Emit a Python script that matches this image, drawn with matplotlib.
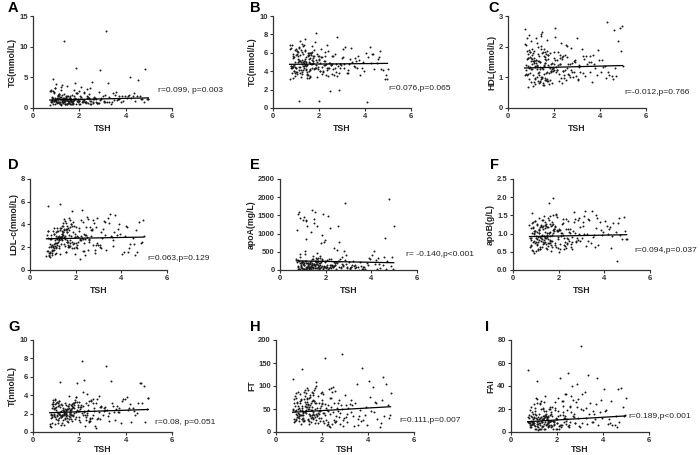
import matplotlib
matplotlib.use("Agg")
import matplotlib.pyplot as plt
import numpy as np

plt.rcParams['font.family'] = ['Liberation Sans', 'DejaVu Sans']

tsh = [0.78,1.12,1.45,0.95,2.10,1.33,1.68,2.45,0.88,1.52,
       3.10,1.05,1.87,2.22,0.72,1.26,1.74,2.95,1.40,0.91,
       2.60,1.18,1.59,3.45,0.83,1.95,2.31,1.09,4.20,1.47,
       1.63,2.05,0.98,2.78,1.36,1.81,3.72,1.22,0.76,2.15,
       1.55,4.65,1.02,1.91,2.52,1.29,3.25,0.86,1.70,2.38,
       1.14,4.95,1.43,2.00,0.93,1.77,2.85,1.31,3.58,1.06,
       1.61,2.27,0.80,4.40,1.49,1.98,2.68,1.19,3.90,1.38,
       0.74,2.12,1.57,4.10,1.24,1.84,3.05,1.00,2.41,1.66,
       1.11,3.35,1.42,2.55,0.89,4.78,1.72,2.08,1.27,3.65,
       1.53,0.97,2.20,1.35,2.90,1.80,4.30,1.16,1.62,2.48,
       0.84,3.15,1.44,2.02,1.08,3.80,1.75,2.35,1.30,4.55,
       1.58,0.92,2.72,1.20,1.93,3.50,1.39,2.18,0.79,4.05,
       1.65,2.62,1.04,1.88,3.00,1.48,2.25,0.95,4.85,1.34,
       1.71,2.80,1.13,3.20,1.56,2.42,0.87,1.97,3.95,1.25,
       1.60,4.60,1.41,2.30,1.01,2.70,1.85,3.40,1.17,4.98,
       1.21,0.81,1.67,2.14,1.37,3.30,0.99,1.79,2.58,1.46,
       0.90,1.54,2.40,1.15,3.85,1.73,2.06,1.28,4.25,1.60,
       1.03,2.33,1.50,0.77,2.88,1.86,1.32,3.55,1.10,2.65,
       1.69,0.94,2.17,1.44,4.70,1.23,1.90,2.50,1.07,3.10,
       1.58,2.75,0.85,1.39,2.24,1.82,3.70,1.26,4.50,1.64,
       0.96,1.99,1.47,2.92,1.14,3.28,1.76,2.36,0.82,4.15,
       1.35,2.03,1.55,2.83,1.19,4.90,1.70,1.06,2.46,3.62,
       1.42,0.89,2.28,1.61,3.05,1.31,1.94,4.35,1.12,2.57]

tg = [1.2,0.8,1.9,0.6,1.4,2.3,1.0,0.7,1.6,1.1,
      2.1,0.9,1.5,1.3,0.5,3.8,0.8,1.7,1.2,2.6,
      1.0,1.4,0.6,2.4,1.8,0.9,3.1,1.5,5.0,0.7,
      1.3,2.0,3.9,0.8,1.1,1.6,1.9,0.5,2.8,1.2,
      0.9,1.4,1.7,2.5,0.6,1.3,4.1,4.8,1.0,1.8,
      2.2,1.5,0.7,1.1,3.2,1.9,0.8,1.4,2.6,1.0,
      1.6,0.9,1.3,1.2,2.0,0.6,1.7,3.4,1.1,1.5,
      2.7,1.0,0.8,1.9,1.4,6.5,1.2,0.9,2.3,1.1,
      1.7,0.7,1.5,4.3,1.3,1.0,0.6,1.8,2.1,1.4,
      0.8,1.3,2.6,11.0,6.2,1.5,1.9,0.9,1.2,3.3,
      1.1,12.5,1.6,0.7,2.2,1.0,1.4,1.7,0.8,4.5,
      1.9,1.2,0.9,2.9,1.5,1.3,0.6,2.4,1.0,1.6,
      0.7,1.8,1.4,1.1,2.0,3.6,0.9,1.3,6.3,1.2,
      1.5,0.8,2.3,1.0,1.7,1.4,0.6,2.8,1.9,1.1,
      1.3,2.0,1.6,0.9,1.2,1.5,2.5,1.0,1.8,1.4,
      1.4,0.9,2.2,1.1,0.7,1.8,1.5,3.0,0.8,1.3,
      2.5,1.0,1.6,0.6,2.0,1.2,3.5,0.9,1.7,1.4,
      0.8,1.9,1.1,2.9,1.3,0.7,1.6,2.2,1.0,1.5,
      1.2,3.3,0.9,1.8,1.4,0.6,2.4,1.1,1.9,1.0,
      1.6,0.8,2.7,1.3,1.0,4.0,1.5,0.9,2.0,1.2,
      1.7,1.1,0.6,1.4,2.3,1.0,1.3,0.8,1.6,2.1,
      0.9,1.5,1.2,2.6,1.8,1.4,0.7,1.9,1.1,1.3,
      2.0,1.2,0.8,1.6,1.0,1.7,1.3,2.4,0.9,1.5]

tc = [4.6,5.2,4.1,3.8,5.5,4.9,6.1,4.4,5.7,3.6,
      4.8,5.9,4.3,5.1,6.8,3.9,5.4,4.7,6.3,4.0,
      5.6,4.5,3.4,5.0,6.9,4.2,4.8,5.3,6.6,3.7,
      6.0,4.9,5.8,3.5,4.6,7.2,5.2,4.1,6.4,5.5,
      3.3,6.2,4.4,5.0,4.7,5.9,3.8,4.5,6.7,4.3,
      5.1,3.1,4.8,5.6,4.0,6.3,2.0,4.6,5.4,3.9,
      4.9,5.7,6.5,4.2,3.6,5.3,4.4,7.3,5.0,4.7,
      3.2,4.5,5.8,0.7,6.1,4.3,5.5,3.9,6.2,4.8,
      0.8,5.3,4.6,3.7,5.9,4.1,4.9,6.4,5.2,4.4,
      6.0,3.5,4.7,5.1,4.3,5.6,5.9,3.8,4.2,1.8,
      4.5,6.6,5.0,0.8,5.7,3.6,4.9,6.8,4.1,5.3,
      4.0,5.5,4.8,6.3,3.4,4.6,5.1,3.9,4.4,6.0,
      5.8,4.2,3.7,8.1,5.4,4.7,6.1,5.0,3.1,4.3,
      5.2,7.7,4.5,3.8,6.0,4.9,3.3,5.6,4.0,4.8,
      4.1,5.5,6.2,3.6,4.4,5.9,4.7,6.5,5.1,4.2,
      5.0,4.4,6.0,3.7,5.3,4.8,6.4,4.2,5.6,3.9,
      4.7,5.8,3.5,6.6,4.3,5.1,4.0,7.0,4.9,5.4,
      6.2,4.1,5.7,4.6,3.8,5.2,6.7,4.5,5.0,3.6,
      4.8,6.3,4.0,5.5,4.2,3.4,5.9,4.7,6.1,4.4,
      5.3,3.9,4.6,7.5,5.1,4.3,5.6,3.7,4.9,6.0,
      4.5,5.2,3.3,4.8,6.5,4.1,5.7,4.4,3.8,5.5,
      6.8,4.0,5.0,4.6,5.8,3.6,4.3,6.2,4.9,5.1,
      4.2,5.4,4.7,3.5,6.4,5.0,4.5,5.9,4.1,4.8]

hdl = [1.24,1.52,0.93,1.81,1.33,1.08,2.21,0.97,1.63,0.82,
       1.41,1.92,1.18,0.89,2.58,1.27,1.74,1.03,1.49,2.38,
       1.12,0.78,1.61,1.44,1.87,1.21,2.13,0.72,1.36,1.79,
       0.99,2.62,1.53,1.16,1.69,0.91,1.42,2.29,1.07,1.58,
       1.93,1.31,0.84,1.47,2.04,1.13,1.71,1.38,0.88,1.22,
       1.64,2.68,1.02,1.83,1.29,0.79,1.54,1.98,1.19,1.43,
       0.92,1.73,1.39,1.09,2.47,1.62,1.01,1.34,1.88,1.51,
       2.09,1.23,0.76,1.57,1.37,1.78,0.94,1.26,1.68,1.14,
       1.48,1.04,1.91,1.32,0.69,2.17,1.59,1.17,1.41,0.86,
       1.28,1.84,1.11,0.81,1.56,1.35,2.82,0.98,1.46,1.72,
       1.61,1.19,2.01,1.44,1.06,1.30,0.87,1.67,1.53,0.96,
       1.37,1.89,1.24,1.58,0.83,1.49,1.27,1.81,1.12,1.18,
       0.91,1.42,1.73,1.21,2.28,1.02,1.63,1.33,2.61,1.52,
       1.16,1.47,0.85,1.94,1.39,1.09,1.76,1.29,1.57,1.01,
       1.82,2.53,1.34,0.97,1.64,1.43,1.22,1.71,0.93,1.36,
       1.46,1.08,1.77,1.25,0.88,1.59,2.19,1.13,1.66,1.31,
       0.95,1.83,1.21,1.54,1.07,1.72,2.33,1.36,0.99,1.48,
       1.27,1.61,0.74,2.05,1.18,1.44,0.89,1.69,1.52,1.06,
       1.85,1.14,1.39,2.42,1.03,1.57,1.26,0.92,1.78,1.35,
       1.11,1.95,1.62,0.86,1.45,1.29,1.74,2.12,1.04,1.58,
       1.67,1.23,0.98,1.51,1.86,1.15,1.40,0.81,2.27,1.33,
       1.19,1.55,1.71,1.02,1.38,1.87,0.94,1.60,1.25,1.49,
       2.36,1.10,1.43,1.66,0.90,1.77,1.30,1.17,1.54,2.02]

ldl = [5.6,2.4,3.1,1.8,2.9,3.5,2.2,3.8,1.5,2.7,
       3.3,1.9,4.2,2.6,1.2,3.0,2.1,4.6,3.4,2.8,
       2.5,3.7,1.6,4.1,2.0,3.2,2.7,1.4,3.9,2.3,
       3.6,2.2,1.3,4.4,2.9,3.0,4.8,2.5,1.7,3.4,
       2.8,3.5,2.1,3.9,1.8,2.6,4.3,1.1,3.1,2.4,
       1.9,4.4,3.3,2.0,2.7,3.8,1.5,5.8,2.9,3.2,
       2.6,5.3,1.7,2.3,3.6,1.4,3.0,2.2,4.0,2.8,
       3.1,2.5,4.1,1.6,2.9,5.2,2.0,3.4,1.3,3.7,
       2.4,1.8,3.2,4.5,2.7,4.2,3.5,1.9,2.6,2.1,
       3.0,2.2,1.0,2.9,3.8,4.0,1.6,3.3,2.5,4.7,
       1.2,2.8,3.9,2.4,2.1,3.1,4.4,1.7,2.9,2.3,
       3.5,2.0,3.6,2.7,1.9,4.9,3.2,2.6,3.4,1.4,
       2.5,3.8,1.8,3.3,2.2,2.9,3.0,1.5,2.4,3.7,
       2.1,4.1,2.8,3.6,1.6,3.1,2.3,2.9,3.2,2.7,
       3.3,1.3,2.6,4.2,2.0,3.5,1.9,4.6,2.4,3.0,
       2.9,3.4,2.0,3.7,2.3,3.1,1.8,4.0,2.6,3.3,
       2.1,4.3,2.7,1.5,3.6,2.4,3.0,1.9,3.8,2.5,
       3.2,1.7,4.5,2.8,2.2,3.9,1.4,3.0,2.6,3.5,
       2.0,3.1,2.7,4.1,1.6,3.4,2.3,2.9,3.7,1.9,
       3.6,2.2,1.3,3.0,4.4,2.5,3.3,2.1,2.8,3.9,
       1.7,2.9,3.5,2.4,2.0,4.2,2.6,3.2,1.5,3.0,
       2.7,3.8,2.1,1.8,3.4,2.5,4.6,2.3,3.1,2.6,
       3.9,1.6,2.8,3.3,2.2,3.7,2.4,1.9,3.0,2.7]

apoa = [120,1380,60,250,40,180,80,30,350,110,
        90,20,1550,150,310,70,200,45,1650,130,
        780,50,160,10,240,210,100,35,270,1400,
        60,95,220,140,80,750,25,190,1100,300,
        1580,40,170,85,260,15,120,450,55,230,
        1350,30,95,70,205,380,1850,160,25,140,
        480,110,280,60,175,820,45,1200,330,90,
        210,1480,65,520,135,270,40,230,150,260,
        520,75,310,1220,190,1950,55,140,170,35,
        260,50,1150,115,400,80,340,20,290,185,
        1600,150,300,90,240,180,130,600,70,350,
        250,85,160,45,780,210,130,95,1550,420,
        125,300,1450,65,220,160,55,220,100,35,
        190,520,240,260,320,150,1420,80,310,60,
        170,870,140,75,1380,360,110,75,205,1200,
        180,90,320,50,260,140,25,210,70,380,
        110,45,190,850,130,60,280,95,30,230,
        150,75,1300,20,170,310,55,120,440,85,
        40,200,140,65,250,100,30,560,180,70,
        220,115,35,160,300,960,90,50,145,210,
        60,240,130,80,190,45,340,110,25,175,
        1050,65,150,270,95,360,120,40,230,80,
        185,30,135,1200,60,210,105,165,70,260]

apob = [0.82,1.13,0.61,1.34,0.93,0.72,1.21,1.04,0.52,1.43,
        0.98,0.68,1.52,0.87,1.24,0.63,1.09,0.79,1.31,0.47,
        0.91,1.18,0.74,1.61,1.02,0.84,1.39,0.57,1.12,0.95,
        1.27,0.59,1.06,0.81,1.47,1.14,0.69,1.23,0.89,1.01,
        0.73,1.42,0.94,1.08,0.62,1.19,0.99,0.77,1.33,0.71,
        1.11,0.86,1.26,0.49,1.03,1.98,0.83,1.37,0.64,1.05,
        1.49,0.78,0.67,1.29,0.92,1.07,1.58,0.58,0.97,1.16,
        0.62,1.01,1.84,1.22,0.81,0.69,1.32,0.88,1.13,0.53,
        0.91,1.38,1.04,0.71,1.17,0.85,0.63,1.09,0.96,1.51,
        1.19,0.74,1.28,0.93,0.99,1.12,0.61,1.44,0.82,1.02,
        0.54,1.63,0.89,1.14,0.78,1.31,1.01,0.73,1.21,0.26,
        1.03,0.81,1.41,0.58,1.11,0.92,1.24,0.97,0.68,1.34,
        0.79,1.08,0.72,1.53,0.88,1.18,0.59,1.06,1.46,0.83,
        1.23,0.87,1.02,0.67,1.36,0.84,1.15,0.61,1.04,1.38,
        0.94,1.29,0.76,1.12,0.51,1.01,1.22,0.73,0.91,0.86,
        0.87,1.16,0.69,1.27,0.94,1.41,0.76,1.06,0.58,1.22,
        0.99,0.66,1.35,0.83,1.09,1.52,0.71,0.93,1.18,0.79,
        1.25,0.61,1.03,0.89,1.44,0.74,1.14,0.97,0.56,1.31,
        0.81,1.07,1.39,0.72,0.95,1.21,0.64,1.12,0.86,1.48,
        1.02,0.77,1.29,0.91,0.68,1.17,1.43,0.84,1.05,0.75,
        1.34,0.92,0.57,1.19,1.01,0.79,1.26,0.88,1.56,0.98,
        0.73,1.11,0.85,1.37,0.63,1.08,0.96,1.23,0.81,1.15,
        0.89,1.32,0.67,1.04,1.20,0.76,1.45,0.94,1.09,0.78]

testo = [1.8,2.9,1.2,3.5,2.1,0.8,2.6,1.5,3.3,1.1,
         2.4,1.7,3.8,2.2,0.6,1.9,3.1,2.7,1.4,2.0,
         3.2,5.4,1.6,2.8,1.0,2.3,4.1,1.3,3.0,2.5,
         1.9,1.1,2.7,3.6,2.0,1.4,2.2,3.0,0.5,2.8,
         2.6,5.3,1.8,5.3,3.4,2.4,1.7,3.5,1.2,2.9,
         1.5,3.7,2.3,1.6,0.9,2.1,3.9,1.8,2.5,3.1,
         2.2,1.3,2.6,1.9,2.8,3.3,0.7,1.7,3.6,2.0,
         0.9,7.7,1.4,2.4,2.9,1.6,2.3,3.2,1.1,2.5,
         3.4,5.5,2.1,1.5,2.6,5.0,1.8,2.7,1.0,2.2,
         2.8,1.6,2.3,2.0,1.4,3.5,2.6,1.9,2.4,1.2,
         3.0,7.2,1.7,2.5,1.3,1.0,2.9,2.1,2.6,3.2,
         2.4,1.9,3.1,0.8,2.7,2.2,1.5,5.6,2.0,3.8,
         1.4,2.6,2.2,3.3,1.8,2.5,0.6,3.0,1.1,2.3,
         2.7,1.5,2.0,2.4,1.7,3.4,2.8,1.3,3.6,1.8,
         2.1,5.3,2.9,1.6,2.4,0.4,2.2,3.1,2.7,3.7,
         2.3,1.6,2.8,1.9,3.2,2.1,1.4,2.6,3.6,1.8,
         2.5,3.0,1.2,2.2,3.4,1.7,2.9,2.4,1.1,2.0,
         3.3,1.9,2.5,1.5,2.7,3.8,2.1,1.3,2.8,2.3,
         1.8,2.6,4.4,2.0,3.1,1.6,2.4,3.5,1.0,2.7,
         2.2,1.4,3.0,2.5,1.9,3.3,2.6,1.7,2.1,2.9,
         3.6,2.3,1.5,2.8,2.0,1.2,3.2,2.4,1.8,2.6,
         1.9,2.7,3.9,2.2,1.6,2.5,3.0,2.1,1.4,2.8,
         2.4,1.7,3.1,2.0,2.6,1.3,2.9,2.3,3.4,1.8]

ft = [62,28,75,41,20,55,33,18,85,47,
      22,68,39,15,50,92,26,30,58,36,
      35,44,80,64,25,57,12,71,98,38,
      29,83,53,18,66,42,140,24,48,60,
      88,120,30,52,27,61,44,75,19,95,
      56,38,23,70,65,34,170,47,15,82,
      43,21,72,28,59,87,63,37,54,26,
      115,160,32,76,45,20,58,40,73,67,
      137,35,50,90,27,105,62,41,78,48,
      22,57,48,95,14,36,66,30,84,44,
      79,52,18,64,36,27,108,40,55,20,
      47,33,70,86,24,104,61,52,28,110,
      38,25,64,45,81,35,17,51,58,73,
      96,42,29,60,54,87,40,30,16,66,
      31,70,49,93,23,45,63,12,42,85,
      26,45,68,37,91,59,34,52,21,77,
      64,30,55,48,36,99,24,57,44,40,
      38,74,62,22,49,31,84,28,69,53,
      51,88,26,39,35,71,46,62,18,40,
      67,33,47,28,58,78,24,43,10,92,
      33,60,81,27,53,69,39,11,56,45,
      72,42,36,58,24,30,62,47,97,34,
      55,29,46,70,32,41,85,63,37,21]

fai = [12,5,18,7,3,9,22,11,4,14,
       8,16,6,27,13,3,10,5,21,9,
       17,10,4,25,6,12,9,30,7,15,
       5,14,24,8,11,3,47,16,9,6,
       13,37,8,19,4,27,12,6,10,33,
       44,15,7,11,17,5,42,20,9,3,
       9,23,15,6,31,8,14,4,28,11,
       54,47,12,18,6,10,75,13,7,20,
       7,50,3,22,10,38,16,5,25,11,
       18,11,6,9,29,14,8,2,13,51,
       4,19,26,8,12,6,17,33,10,14,
       11,7,16,3,21,9,14,6,8,37,
       6,31,18,10,4,13,27,9,22,5,
       15,8,11,35,7,19,14,3,12,24,
       10,4,20,12,6,28,9,16,13,30,
       8,19,5,15,11,7,12,22,9,3,
       13,6,10,25,17,4,30,8,11,14,
       5,12,16,9,22,7,13,18,3,40,
       20,8,4,14,9,11,26,6,15,33,
       7,13,22,5,17,10,24,12,6,9,
       16,3,9,12,29,21,6,14,8,19,
       4,18,11,26,7,14,10,21,5,16,
       12,6,15,8,20,3,11,27,9,23]

letters = ['A', 'B', 'C', 'D', 'E', 'F', 'G', 'H', 'I']
ylabels = ['TG(mmol/L)', 'TC(mmol/L)', 'HDL(mmol/L)', 'LDL-c(mmol/L)', 'apoA(mg/L)',
           'apoB(g/L)', 'T(nmol/L)', 'FT', 'FAI']
yseries = [tg, tc, hdl, ldl, apoa, apob, testo, ft, fai]
ymax = [15, 10, 3, 8, 2500, 2.5, 10, 200, 80]
ystep = [5, 2, 1, 2, 500, 0.5, 2, 50, 20]
fit_intercept = [1.24, 4.73, 1.29, 2.72, 259, 0.91, 2.04, 40.9, 8.1]
fit_slope = [0.082, 0.024, 0.019, 0.035, -11.8, 0.012, 0.082, 2.82, 1.18]
stats = ['r=0.099, p=0.003', 'r=0.076,p=0.065', 'r=-0.012,p=0.766',
         'r=0.063,p=0.129', 'r= -0.140,p<0.001', 'r=0.094,p=0.037',
         'r=0.08, p=0.051', 'r=0.111,p=0.007', 'r=0.189,p<0.001']

W, H = 700, 455
fig = plt.figure(figsize=(7, 4.55), dpi=100)

# axes boxes in pixels: left, top, right, bottom
boxes = [(33, 16, 172, 108), (273, 16, 411, 108), (508, 16, 646, 108),
         (30, 179, 167, 270), (280, 179, 417, 270), (513, 179, 650, 270),
         (33, 340, 172, 432), (276, 340, 414, 432), (511, 340, 649, 432)]
letter_pos = [(8, 8), (250, 8), (488, 8), (8, 165), (250, 165), (490, 165),
              (8, 327), (250, 327), (485, 327)]
stat_pos = [(158, 90), (388, 89), (624, 93), (147, 259), (406, 255), (634, 250),
            (155, 422), (399, 421), (628, 417)]
xlabel_pad = [3, 3, 3, 3, 3, 3, 0.8, 0.8, 0.8]

x = np.array(tsh)
for i in range(9):
    l, t, r, b = boxes[i]
    ax = fig.add_axes([l / W, 1 - b / H, (r - l) / W, (b - t) / H])
    ax.scatter(x, yseries[i], s=2.0, c='#1a1a1a', linewidths=0)
    xl = np.array([x.min(), x.max()])
    ax.plot(xl, fit_intercept[i] + fit_slope[i] * xl, color='black', lw=0.9)
    ax.set_xlim(0, 6)
    ax.set_ylim(0, ymax[i])
    ax.set_xticks([0, 2, 4, 6])
    ax.set_yticks(np.arange(0, ymax[i] + ystep[i] / 2, ystep[i]))
    if i == 5:
        ax.set_yticklabels(['%.1f' % v for v in np.arange(0, 2.51, 0.5)])
    for s in ['top', 'right']:
        ax.spines[s].set_visible(False)
    for s in ['left', 'bottom']:
        ax.spines[s].set_linewidth(0.9)
        ax.spines[s].set_color('#333333')
    ax.tick_params(axis='both', length=2.5, width=0.8, pad=1.2, labelsize=5.5,
                   colors='#333333', direction='out')
    for lab in ax.get_xticklabels() + ax.get_yticklabels():
        lab.set_fontweight('bold')
    ax.set_xlabel('TSH', fontsize=6.3, fontweight='bold', labelpad=xlabel_pad[i],
                  color='#222222')
    ax.set_ylabel(ylabels[i], fontsize=6.3, fontweight='bold', labelpad=1.5,
                  color='#222222')
    lx, ly = letter_pos[i]
    fig.text(lx / W, 1 - ly / H, letters[i], fontsize=10.5, fontweight='bold',
             ha='left', va='center')
    sx, sy = stat_pos[i]
    fig.text(sx / W, 1 - sy / H, stats[i], fontsize=6.1, ha='left', va='center',
             color='#222222')

fig.savefig('out.png', dpi=100)
